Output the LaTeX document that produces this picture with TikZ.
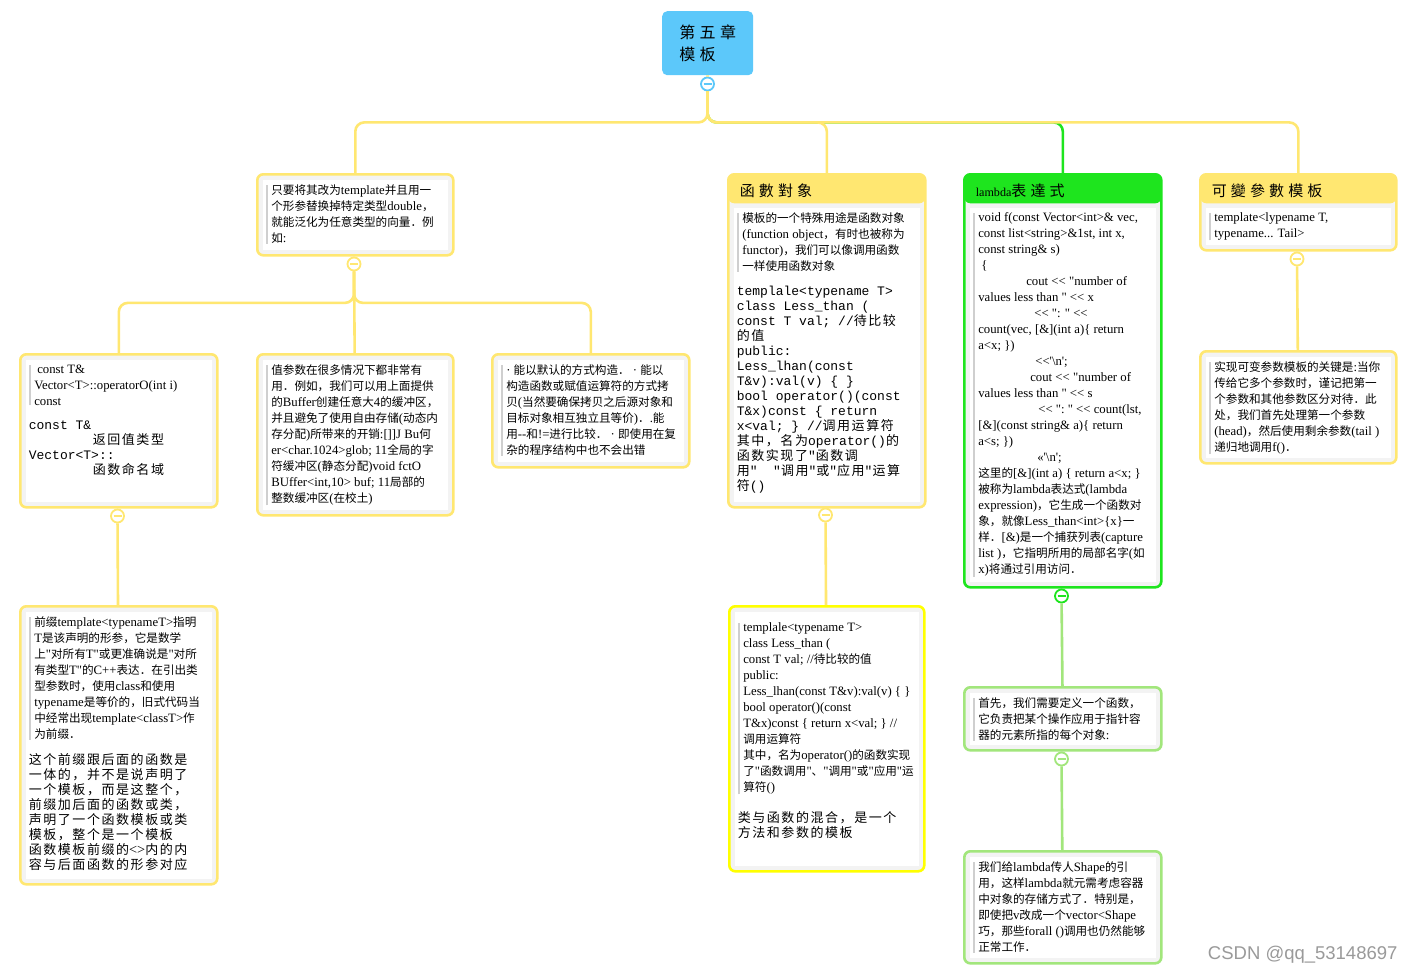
\documentclass[tikz,border=0pt]{standalone}
\usepackage{fontspec}
\usepackage{xcolor}
\newfontfamily\serifro[Scale=1.1]{Liberation Serif}
\newfontfamily\monoro{Liberation Mono}
\newfontfamily\cjkfam{Noto Sans CJK SC}
\newfontfamily\cjkwide[LetterSpace=12]{Noto Sans CJK SC}
\newfontfamily\markfont{Liberation Sans}
\def\cjkcur{\cjkfam}
\def\latincur{\serifro}

\XeTeXinterchartokenstate=1
\chardef\hanclass=100
\newcount\hanpos
\newcommand\hanrange[2]{\hanpos=#1 \loop\XeTeXcharclass\hanpos=\hanclass\advance\hanpos by 1 \ifnum\hanpos<#2 \repeat}
\hanrange{"4E00}{"A000}
\hanrange{"3000}{"3040}
\hanrange{"FF00}{"FFF0}
\XeTeXinterchartoks 0 \hanclass = {\cjkcur}
\XeTeXinterchartoks 1 \hanclass = {\cjkcur}
\XeTeXinterchartoks 2 \hanclass = {\cjkcur}
\XeTeXinterchartoks 3 \hanclass = {\cjkcur}
\XeTeXinterchartoks 4095 \hanclass = {\cjkcur}
\XeTeXinterchartoks \hanclass 0 = {\latincur}
\XeTeXinterchartoks \hanclass 1 = {\latincur}
\XeTeXinterchartoks \hanclass 2 = {\latincur}
\XeTeXinterchartoks \hanclass 3 = {\latincur}
\XeTeXinterchartoks \hanclass 4095 = {\latincur}

\definecolor{paleyel}{HTML}{FFE771}
\definecolor{brightyel}{HTML}{FFFF00}
\definecolor{lamgreen}{HTML}{1EE51E}
\definecolor{palegreen}{HTML}{A2E67C}
\definecolor{rootblue}{HTML}{5CC8FA}
\definecolor{paper}{HTML}{F3F3F3}
\definecolor{barc}{HTML}{CFCFCF}
\definecolor{markgray}{HTML}{9A9A9A}

\setlength\fboxsep{3pt}
\newcommand\notefont{\fontsize{11.6}{16}\selectfont\def\cjkcur{\cjkfam}\def\latincur{\serifro}\serifro}
\newcommand\codefont{\fontsize{13}{15}\selectfont\def\cjkcur{\cjkwide}\def\latincur{\monoro}\monoro}
\newcommand\brushfont{\fontsize{13}{15}\selectfont\def\cjkcur{\cjkwide}\def\latincur{\serifro}\serifro}
\newcommand\titlefont{\fontsize{15}{18}\selectfont\def\cjkcur{\cjkfam}\def\latincur{\serifro}\serifro}
\newcommand\pane[3]{\colorbox{white}{\parbox[c][#2pt][t]{#1pt}{\notefont\vspace*{2pt}#3}}}
\newcommand\barpara[2]{\hbox{{\color{barc}\vrule width 2.5pt}\hskip3pt\parbox[t]{#1pt}{#2}}}
\newcommand\headed[3]{\vbox{\hbox{\parbox[c][22pt][c]{#1pt}{\hspace*{6pt}\titlefont#2}}\kern6pt\nointerlineskip\hbox{#3}}}

\begin{document}
\begin{tikzpicture}[x=1pt, y=-1pt,
    topic/.style={draw=#1, line width=2.6pt, rounded corners=6pt, fill=paper, inner sep=5.5pt, anchor=north west},
    header/.style={path picture={\fill[#1] (path picture bounding box.north west) rectangle ([yshift=-29pt]path picture bounding box.north east);}},
    fold/.style={circle, draw=#1, fill=white, line width=1.8pt, minimum size=13pt, inner sep=0pt,
        path picture={\draw[#1, line width=1.6pt] ([xshift=-4pt]path picture bounding box.center) -- ([xshift=4pt]path picture bounding box.center);}},
    link/.style={draw=#1, line width=2.6pt, rounded corners=9pt}]
    \fill[white] (0,0) rectangle (1416,974);
    \useasboundingbox (0,0) rectangle (1416,974);

    \node[fill=rootblue, rounded corners=5pt, minimum width=91pt, minimum height=64pt, anchor=north west, align=left,
        font=\fontsize{16}{22}\selectfont\cjkfam] (root) at (662,11) {第 五 章\\模 板};

    \node[topic=paleyel] (generic) at (256,173) {\pane{179}{64}{\barpara{173.5}{只要将其改为template并且用一\\个形参替换掉特定类型double，\\就能泛化为任意类型的向量．例\\如:}}};
    \node[topic=paleyel] (vecop) at (19,353) {\pane{180}{136}{\barpara{174.5}{\hspace*{3pt}const T\&\\Vector<T>::operatorO(int~i)\\const}\par\vspace{14pt}{\codefont const T\&\\\hspace*{64pt}返回值类型\\Vector<T>::\\\hspace*{64pt}函数命名域\par}}};
    \node[topic=paleyel] (valparam) at (256,353) {\pane{179}{144}{\barpara{173.5}{值参数在很多情况下都非常有\\用．例如，我们可以用上面提供\\的Buffer创建任意大4的缓冲区，\\并且避免了使用自由存储(动态内\\存分配)所带来的开销:[]]J~Bu何\\er<char.1024>glob;~11全局的字\\符缓冲区(静态分配)void~fctO\\BUffer<int,10>~buf;~11局部的\\整数缓冲区(在校土)}}};
    \node[topic=paleyel] (regular) at (491,353) {\pane{180}{96}{\barpara{174.5}{· 能以默认的方式构造．~·~能以\\构造函数或赋值运算符的方式拷\\贝(当然要确保拷贝之后源对象和\\目标对象相互独立且等价)．.能\\用--和!=进行比较．~·~即使用在复\\杂的程序结构中也不会出错}}};
    \node[topic=paleyel] (prefix) at (19,605) {\pane{180}{261}{\barpara{174.5}{前缀template<typenameT>指明\\T是该声明的形参，它是数学\\上"对所有T"或更准确说是"对所\\有类型T"的C++表达．在引出类\\型参数时，使用class和使用\\typename是等价的，旧式代码当\\中经常出现template<classT>作\\为前缀．}\par\vspace{13pt}{\brushfont 这个前缀跟后面的函数是\\一体的，并不是说声明了\\一个模板，而是这整个，\\前缀加后面的函数或类，\\声明了一个函数模板或类\\模板，整个是一个模板\\函数模板前缀的<>内的内\\容与后面函数的形参对应\par}}};

    \node[topic=paleyel, header=paleyel] (funobj) at (727,173) {\headed{186}{函 數 對 象}{\pane{180}{288}{\barpara{174.5}{模板的一个特殊用途是函数对象\\(function~object，有时也被称为\\functor)，我们可以像调用函数\\一样使用函数对象}\par\vspace{13pt}{\codefont templale<typename T>\\class Less\_than (\\const T val; //待比较\\的值\\public:\\Less\_lhan(const\\T\&v):val(v) \{ \}\\bool operator()(const\\T\&x)const \{ return\\x<val; \} //调用运算符\\其中，名为operator()的\\函数实现了"函数调\\用"\ \ "调用"或"应用"运算\\符()\par}}}};
    \node[topic=brightyel] (lessthan) at (728,605) {\pane{178}{248}{\vspace*{6pt}\barpara{172.5}{templale<typename T>\\class Less\_than (\\const T val; //待比较的值\\public:\\Less\_lhan(const~T\&v):val(v)~\{~\}\\bool operator()(const\\T\&x)const~\{~return~x<val;~\}~//\\调用运算符\\其中，名为operator()的函数实现\\了"函数调用"、"调用"或"应用"运\\算符()}\par\vspace{16pt}{\brushfont 类与函数的混合，是一个\\方法和参数的模板\par}}};

    \node[topic=lamgreen, header=lamgreen] (lambda) at (963,173) {\headed{186}{{\fontsize{11}{11}\selectfont lambda}表 達 式}{\pane{180}{368}{\barpara{174.5}{void f(const Vector<int>\&~vec,\\const list<string>\&1st,~int~x,\\const string\& s)\\\hspace*{3pt}\{\\\hspace*{48pt}cout << "number of\\values less than " << x\\\hspace*{56pt}<< ": " <<\\count(vec, [\&](int~a)\{~return\\a<x; \})\\\hspace*{57pt}<<'\textbackslash n';\\\hspace*{52pt}cout << "number of\\values less than " << s\\\hspace*{60pt}<<~":~"~<<~count(lst,\\{}[\&](const string\&~a)\{~return\\a<s; \})\\\hspace*{59pt}«'\textbackslash n';\\这里的[\&](int~a)~\{~return~a<x;~\}\\被称为lambda表达式(lambda\\expression)，它生成一个函数对\\象，就像Less\_than<int>\{x\}一\\样．[\&)是一个捕获列表(capture\\list~)，它指明所用的局部名字(如\\x)将通过引用访问．}}}};
    \node[topic=palegreen] (apply) at (963,686) {\pane{180}{46}{\barpara{174.5}{首先，我们需要定义一个函数，\\它负责把某个操作应用于指针容\\器的元素所指的每个对象:}}};
    \node[topic=palegreen] (shape) at (963,850) {\pane{180}{95}{\barpara{174.5}{我们给lambda传人Shape的引\\用，这样lambda就元需考虑容器\\中对象的存储方式了．特别是，\\即使把v改成一个vector<Shape\\巧，那些forall~()调用也仍然能够\\正常工作．}}};

    \node[topic=paleyel, header=paleyel] (variadic) at (1199,173) {\headed{185}{可 變 參 數 模 板}{\pane{179}{31}{\barpara{173.5}{template<lypename T,\\typename... Tail>}}}};
    \node[topic=paleyel] (recurse) at (1199,350) {\pane{179}{95}{\barpara{173.5}{实现可变参数模板的关键是:当你\\传给它多个参数时，谨记把第一\\个参数和其他参数区分对待．此\\处，我们首先处理第一个参数\\(head)，然后使用剩余参数(tail~)\\递归地调用f()．}}};

    \node[fold=rootblue] (rootfold) at (707.5,84) {};
    \node[fold=paleyel] (genfold) at (354,264) {};
    \node[fold=paleyel] (vecfold) at (117.5,516) {};
    \node[fold=paleyel] (funfold) at (825.5,515) {};
    \node[fold=lamgreen] (lamfold) at (1061.5,596) {};
    \node[fold=palegreen] (applyfold) at (1061.5,759) {};
    \node[fold=paleyel] (varfold) at (1297,259) {};

    \node[anchor=east, text=markgray, font=\markfont\fontsize{18.5}{22}\selectfont] (mark) at (1401,955) {CSDN @qq\_53148697};

    \draw[link=paleyel] (root) -- (rootfold);
    \draw[link=lamgreen] (rootfold.south) -- ++(0,31) -| (lambda.north);
    \draw[link=paleyel] (rootfold.south) -- ++(0,31) -| (generic.north);
    \draw[link=paleyel] (rootfold.south) -- ++(0,31) -| (funobj.north);
    \draw[link=paleyel] (rootfold.south) -- ++(0,31) -| (variadic.north);

    \draw[link=paleyel] (generic) -- (genfold);
    \draw[link=paleyel] (genfold.south) -- ++(0,31.5) -| (vecop.north);
    \draw[link=paleyel] (genfold) -- (valparam);
    \draw[link=paleyel] (genfold.south) -- ++(0,31.5) -| (regular.north);
    \draw[link=paleyel] (vecop) -- (vecfold);
    \draw[link=paleyel] (vecfold) -- (prefix);

    \draw[link=paleyel] (funobj) -- (funfold);
    \draw[link=paleyel] (funfold) -- (lessthan);

    \draw[link=lamgreen] (lambda) -- (lamfold);
    \draw[link=palegreen] (lamfold) -- (apply);
    \draw[link=palegreen] (apply) -- (applyfold);
    \draw[link=palegreen] (applyfold) -- (shape);

    \draw[link=paleyel] (variadic) -- (varfold);
    \draw[link=paleyel] (varfold) -- (recurse);
\end{tikzpicture}
\end{document}
